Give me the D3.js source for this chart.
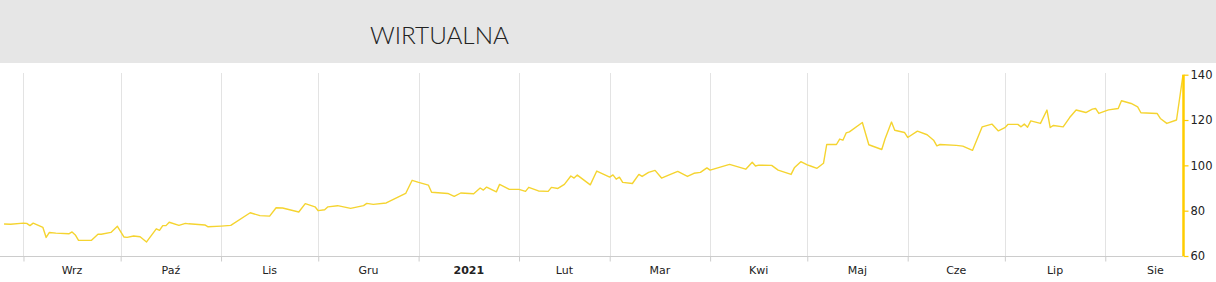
<!DOCTYPE html>
<html><head><meta charset="utf-8">
<script src="https://cdn.jsdelivr.net/npm/d3@7"></script>
<style>body{margin:0;background:#fff;} svg{display:block;}</style>
</head><body><svg id="c" width="1216" height="282"></svg>
<script>
const title = "WIRTUALNA";
const dates = [
"2020-08-26","2020-08-28","2020-09-01","2020-09-02","2020-09-03","2020-09-04","2020-09-07","2020-09-08","2020-09-09","2020-09-11",
"2020-09-15","2020-09-16","2020-09-17","2020-09-18","2020-09-22","2020-09-24","2020-09-25","2020-09-28","2020-09-30","2020-10-02",
"2020-10-03","2020-10-05","2020-10-07","2020-10-09","2020-10-12","2020-10-13","2020-10-14","2020-10-15","2020-10-16","2020-10-19",
"2020-10-21","2020-10-22","2020-10-26","2020-10-27","2020-10-28","2020-11-01","2020-11-04","2020-11-10","2020-11-13","2020-11-16",
"2020-11-18","2020-11-20","2020-11-25","2020-11-27","2020-11-30","2020-12-01","2020-12-03","2020-12-04","2020-12-07","2020-12-11",
"2020-12-15","2020-12-16","2020-12-18","2020-12-22","2020-12-28","2020-12-30","2021-01-01","2021-01-04","2021-01-05","2021-01-10",
"2021-01-12","2021-01-14","2021-01-18","2021-01-20","2021-01-21","2021-01-22","2021-01-25","2021-01-26","2021-01-29","2021-02-01",
"2021-02-03","2021-02-04","2021-02-07","2021-02-10","2021-02-11","2021-02-13","2021-02-15","2021-02-17","2021-02-18","2021-02-19",
"2021-02-23","2021-02-25","2021-03-01","2021-03-02","2021-03-03","2021-03-04","2021-03-05","2021-03-08","2021-03-10","2021-03-11",
"2021-03-13","2021-03-15","2021-03-17","2021-03-19","2021-03-22","2021-03-25","2021-03-27","2021-03-29","2021-03-31","2021-04-01",
"2021-04-07","2021-04-12","2021-04-14","2021-04-15","2021-04-16","2021-04-20","2021-04-22","2021-04-26","2021-04-27","2021-04-29",
"2021-05-01","2021-05-02","2021-05-04","2021-05-06","2021-05-07","2021-05-10","2021-05-11","2021-05-12","2021-05-13","2021-05-14",
"2021-05-18","2021-05-20","2021-05-24","2021-05-25","2021-05-27","2021-05-28","2021-05-31","2021-06-01","2021-06-04","2021-06-07",
"2021-06-09","2021-06-10","2021-06-11","2021-06-16","2021-06-18","2021-06-21","2021-06-24","2021-06-27","2021-06-29","2021-07-01",
"2021-07-02","2021-07-05","2021-07-06","2021-07-07","2021-07-08","2021-07-09","2021-07-12","2021-07-14","2021-07-15","2021-07-16",
"2021-07-19","2021-07-21","2021-07-23","2021-07-26","2021-07-28","2021-07-29","2021-07-30","2021-08-02","2021-08-05","2021-08-06",
"2021-08-09","2021-08-11","2021-08-12","2021-08-17","2021-08-18","2021-08-20","2021-08-23","2021-08-25"
];
const values = [
74.1,74.0,74.5,74.4,73.4,74.5,72.6,68.2,70.4,70.1,
69.8,70.6,69.3,66.9,66.9,69.6,69.6,70.4,73.1,68.4,
68.2,68.8,68.5,66.2,72.0,71.3,73.4,73.4,74.9,73.5,
74.4,74.2,73.8,73.7,72.9,73.2,73.5,79.1,77.8,77.6,
81.3,81.2,79.4,83.1,81.7,80.0,80.4,81.7,82.2,81.0,
82.2,83.2,82.8,83.4,87.6,93.4,92.5,91.3,88.1,87.6,
86.3,87.8,87.5,90.0,89.1,90.4,88.3,91.6,89.4,89.4,
88.5,90.3,88.7,88.5,90.3,89.8,91.6,95.3,94.4,95.7,
91.4,97.5,94.8,95.8,93.9,94.8,92.5,92.0,96.0,95.1,
96.9,97.8,94.4,95.6,97.3,95.1,96.5,96.9,98.9,97.9,
100.4,98.3,101.4,99.7,100.1,100.0,97.9,96.0,98.9,101.6,
100.2,99.7,98.7,100.9,109.2,109.2,111.6,111.1,114.3,114.8,
118.9,109.1,107.0,111.6,119.1,115.5,114.5,112.3,115.1,113.5,
111.1,108.6,109.2,108.8,108.5,106.6,117.0,118.2,115.2,116.6,
118.1,118.1,117.0,118.2,116.8,119.6,118.5,124.4,116.7,117.6,
117.0,121.1,124.4,123.3,124.8,125.1,122.9,124.5,125.1,128.5,
127.3,125.8,123.2,122.9,120.7,118.5,120.0,139.9
];
const monthStarts = ["2020-09-01","2020-10-01","2020-11-01","2020-12-01","2021-01-01","2021-02-01","2021-03-01","2021-04-01","2021-05-01","2021-06-01","2021-07-01","2021-08-01","2021-09-01"];
const monthLabels = ["Wrz","Paź","Lis","Gru","2021","Lut","Mar","Kwi","Maj","Cze","Lip","Sie"];
const yTicks = [60,80,100,120,140];

const parse = d3.utcParse("%Y-%m-%d");
const data = dates.map((d,i)=>({date: parse(d), value: values[i]}));
const W = 1216, H = 282;
const plotLeft = 0, plotRight = 1183, plotTop = 73, plotBottom = 256;

const svg = d3.select("#c");
svg.append("rect").attr("x",0).attr("y",0).attr("width",W).attr("height",63).attr("fill","#e6e6e6");
svg.append("text").attr("x",370).attr("y",44).text(title)
  .attr("font-family","Lato, 'Open Sans', sans-serif").attr("font-weight",300)
  .attr("font-size",24.3).attr("fill","#222");

const x = d3.scaleUtc().domain([Date.UTC(2020,7,24,18), Date.UTC(2021,7,25)]).range([plotLeft, plotRight]);
const y = d3.scaleLinear().domain([60,140]).range([plotBottom, 74.7]);

const ms = monthStarts.map(parse);
svg.append("g").selectAll("line").data(ms.slice(0,-1)).join("line")
  .attr("x1",d=>Math.round(x(d))+0.5).attr("x2",d=>Math.round(x(d))+0.5)
  .attr("y1",plotTop).attr("y2",plotBottom).attr("stroke","#e3e3e3").attr("stroke-width",1);

const xAxis = d3.axisBottom(x).tickValues(ms.slice(0,-1)).tickSize(5).tickFormat("");
const gx = svg.append("g").attr("transform",`translate(0,${plotBottom+0.5})`).call(xAxis);
gx.select(".domain").attr("stroke","#cccccc").attr("d",`M${plotLeft},0H${plotRight}`);
gx.selectAll(".tick line").attr("stroke","#cccccc");

svg.append("g").selectAll("text").data(monthLabels).join("text")
  .attr("x",(d,i)=>(x(ms[i])+x(ms[i+1]))/2).attr("y",274)
  .attr("text-anchor","middle").attr("font-family","'DejaVu Sans', Verdana, sans-serif")
  .attr("font-size",11).attr("fill","#222")
  .attr("font-weight",d=>/^\d+$/.test(d)?"bold":"normal")
  .text(d=>d);

const line = d3.line().x(d=>x(d.date)).y(d=>y(d.value));
svg.append("path").datum(data).attr("d",line).attr("fill","none")
  .attr("stroke","#f5d430").attr("stroke-width",1.4).attr("stroke-linejoin","round");

const yAxis = d3.axisRight(y).tickValues(yTicks).tickSize(5).tickPadding(2);
const gy = svg.append("g").attr("transform",`translate(${plotRight+0.5},0)`).call(yAxis);
gy.select(".domain").attr("stroke","#ffcc00").attr("stroke-width",2.5).attr("d",`M0,${y(140)}V${y(60)}`);
gy.selectAll(".tick line").attr("stroke","#ffcc00").attr("stroke-width",1.2);
gy.selectAll(".tick text").attr("font-family","'DejaVu Sans', Verdana, sans-serif").attr("font-size",11.5).attr("fill","#222");
</script></body></html>
